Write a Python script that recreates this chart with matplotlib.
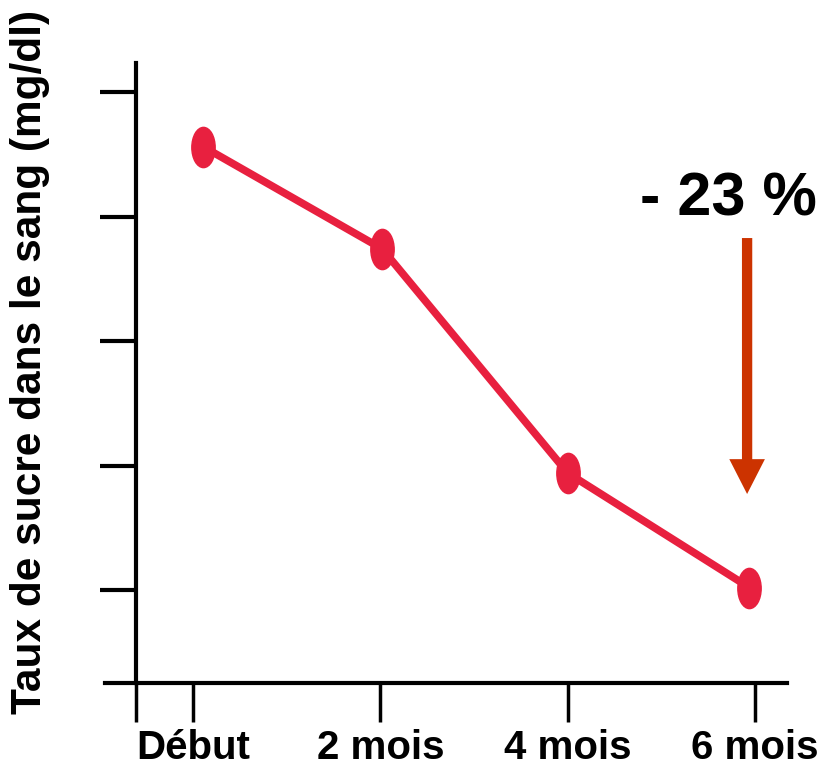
import matplotlib
matplotlib.use("Agg")
import matplotlib.pyplot as plt
from matplotlib.path import Path
from matplotlib.transforms import Affine2D

# Data (arbitrary units; y axis has no labels)
categories = ["Début", "2 mois", "4 mois", "6 mois"]
tick_pos = [0, 1, 2, 3]
point_x = [0.055, 1.01, 2.0, 2.97]
values = [4.56, 3.74, 1.94, 1.02]
y_ticks = [1, 2, 3, 4, 5]
ylabel = "Taux de sucre dans le sang (mg/dl)"
annot_text = "- 23 %"

plt.rcParams['font.family'] = ['Liberation Sans', 'DejaVu Sans']

W, H = 824, 766
fig = plt.figure(figsize=(W / 100, H / 100), dpi=100)
L, R, T, B = 105, 787, 63, 683
ax = fig.add_axes([L / W, 1 - B / H, (R - L) / W, (B - T) / H])
ax.set_xlim(-0.47, 3.171)
ax.set_ylim(0.253, 5.233)

spine_x = -0.304
for s in ["top", "right"]:
    ax.spines[s].set_visible(False)
ax.spines["left"].set_position(("data", spine_x))
ax.spines["left"].set_linewidth(3)
ax.spines["bottom"].set_linewidth(3)

ax.set_xticks([spine_x] + tick_pos)
ax.set_xticklabels([""] + categories, fontsize=29, fontweight="bold")
ax.tick_params(axis="x", direction="out", length=28, width=2.5, pad=5)
ax.set_yticks(y_ticks)
ax.set_yticklabels([])
ax.tick_params(axis="y", direction="out", length=26, width=3)

color = "#E8203F"
ellipse = Path.unit_circle().transformed(Affine2D().scale(0.58, 1.0))
ax.plot(point_x, values, color=color, lw=5.5, marker=ellipse, markersize=29,
        markerfacecolor=color, markeredgecolor=color, solid_capstyle="round",
        zorder=3)

# Annotation arrow and text
ax.arrow(2.958, 3.827, 0, 1.771 - 3.827, width=0.055, head_width=0.19,
         head_length=0.28, length_includes_head=True, color="#CC3300", lw=0)
ax.text(2.86, 4.13, annot_text, fontsize=44, fontweight="bold",
        ha="center", va="center")

fig.text(30 / W, 1 - 362 / H, ylabel, rotation=90, fontsize=30.5,
         fontweight="bold", ha="center", va="center")

fig.savefig("out.png", dpi=100)
